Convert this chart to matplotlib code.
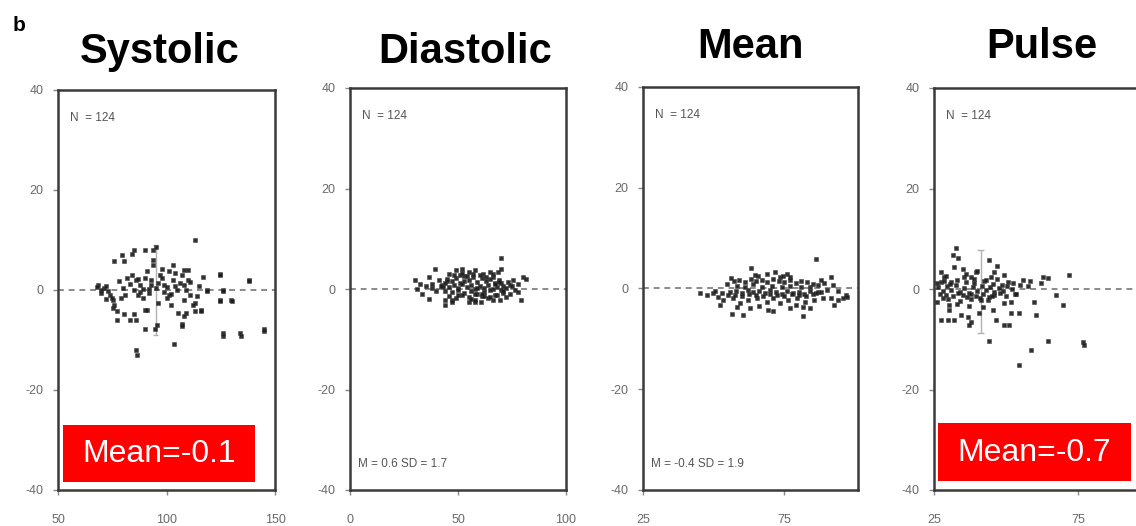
import matplotlib
matplotlib.use("Agg")
import matplotlib.pyplot as plt
from matplotlib.patches import Rectangle

plt.rcParams['font.family'] = ['Liberation Sans', 'DejaVu Sans']
plt.rcParams['axes.unicode_minus'] = False

# ---------------- data ----------------
titles = ["Systolic", "Diastolic", "Mean", "Pulse"]
n_text = "N  = 124"
stat_texts = [None, "M = 0.6 SD = 1.7", "M = -0.4 SD = 1.9", None]
red_texts = ["Mean=-0.1", None, None, "Mean=-0.7"]

y_ticks = [-40, -20, 0, 20, 40]
x_ticks_sys = [50, 100, 150]
x_ticks_dia = [0, 50, 100]
x_ticks_mean = [25, 75]
x_ticks_pulse = [25, 75]

sys_x = [113, 138, 124.5, 124.5, 129.5, 126, 118.5, 126, 134, 145, 103.5, 86, 86.5, 107, 105.5,
         109, 116, 108, 113, 90, 90, 94.5, 95.4, 80.5, 85, 77.3, 83, 86, 75.5, 75.5,
         76, 80.5, 79.6, 84, 85, 90, 94, 95, 94, 94, 97.7, 103, 101, 108, 110,
         68.5, 71, 73, 70, 68, 70, 72, 74, 75, 76, 77, 84, 86, 88, 85,
         87, 89, 90, 91, 93, 95, 92, 96, 97, 99, 101, 103, 105, 100, 104,
         102, 91, 107, 108, 109, 111, 112, 113, 110, 124.5, 138, 118.5, 126, 124.5, 130,
         108, 116, 107, 145, 126, 134.5, 82, 80, 79, 83, 88, 92, 98, 100, 106,
         102, 96, 93, 89, 81, 78, 87, 99, 104, 111, 114, 115, 117, 72]
sys_y = [10, 2, 3.2, -2, -2, 0, 0, -8.6, -8.6, -7.8, -10.8, -12, -13, -6.8, -4.6,
         -4.6, -4, -2, -2.6, -4, -7.8, -7.8, -7, -4.8, -4.8, -6, -6, -6, -2, -3.6,
         5.8, 5.8, 7, 7.2, 8, 8, 8, 8.6, 6, 5, 4.2, 5, 3.8, 4, 4,
         1, 0.4, -0.2, 0, 0.6, -0.6, 0.8, -1, -1.5, -3, -4.2, 3, 2, 1, 0,
         -1, -1.6, 2.5, 3.8, 2, 0.5, -0.5, 1.5, 3, 1, -1, 2, 0, -1.6, 3.5,
         -3, -4, 3, 1, 0, -1, -3, -4.2, 2, 3, 1.8, -0.2, -0.2, -2.2, -2.2,
         -5.2, -4.2, -7.2, -8.2, -9.2, -9.2, 2.5, 0.5, -1.5, 1.2, -0.4, 0.2, 2.4, 0.6, 1.4,
         -0.8, -2.6, 1.1, 0.3, -0.9, 1.8, 2.2, -0.3, 0.9, 1.6, -1.2, 0.8, 2.6, -1.8]

dia_x = [70, 70, 68.5, 39.5, 46, 49, 52, 55.3, 57.7, 61.4, 64.6, 66, 30.2, 32.6, 31.2,
         33.5, 36.7, 38, 41.4, 42.8, 36.7, 44, 44, 47.4, 55.3, 57.7, 60.5, 66, 69.3, 72,
         79, 75.3, 77.7, 80, 81.4, 76.3, 74, 77.7, 45, 47, 49, 51, 53, 55, 57,
         59, 61, 63, 65, 67, 69, 71, 73, 46, 48, 50, 52, 54, 56, 58,
         60, 62, 64, 66, 68, 70, 72, 44, 47, 50, 53, 56, 59, 62, 65,
         68, 71, 43, 46, 49, 52, 55, 58, 61, 64, 67, 70, 45, 48, 51,
         54, 57, 60, 63, 66, 69, 40, 42, 74, 50, 56, 62, 47, 53, 59,
         65, 71, 44, 58, 35, 38, 75, 52, 61, 67]
dia_y = [6.2, 4, 3.4, 4, 3, 3.8, 4, 3.4, 3.8, 3, 3.4, 2.4, 1.8, 1, 0,
         -1, 2.4, 1, 1.8, 0.8, -2, -2.2, -3.2, -2.2, -2.6, -2.6, -2.6, -2.2, -2.2, -1.6,
         -2.2, 1.8, 1, 2.4, 2, -0.2, -1, -0.6, 2, 1.5, 2.2, 1.2, 2.6, 1.8, 2.4,
         1.4, 2.2, 1.6, 2, 1.2, 1.8, 0.6, 1.4, 0.4, 0.8, 0.2, 1, 0.4, 0.8, 0,
         0.6, 0.2, 0.8, 0, 0.4, -0.2, 0.2, -0.4, -0.6, -0.2, -0.8, -0.4, -1, -0.6, -0.2,
         -1.2, -0.8, 0.4, -1.4, -1.8, -1.2, -1.6, -1, -1.4, -1.8, -1.2, 1.2, 1.6, 2.8, 2.8,
         2.6, 3, 2.8, 2.4, 3, 1.4, -0.4, 0.6, 0.8, -1.2, -2, -1.4, -2.6, 1.6, 0.2,
         -1.6, -0.4, 1.2, -2.2, 0.6, 0.2, 0.6, 3.2, -1, 1]

mean_x = [86, 63, 65.8, 69, 71.8, 73.6, 76, 77, 91.3, 54.8, 58.3, 55.9, 61.2, 64, 67.2,
          70.7, 74.3, 77.1, 80.7, 84.2, 86.7, 45.2, 47.7, 49.8, 51.6, 53, 52.3, 53.4, 56.9, 59.4,
          62.2, 65.4, 69, 71.1, 73.6, 76.4, 79.6, 82.4, 85.3, 88.5, 91.3, 93.8, 96.6, 95.6, 92.4,
          56.6, 60.5, 58.3, 62.9, 69.3, 71.1, 77.1, 81.4, 81.7, 84.2, 57, 59, 61, 63, 65,
          67, 69, 71, 73, 75, 77, 79, 81, 83, 85, 87, 89, 58, 60, 62,
          64, 66, 68, 70, 72, 74, 76, 78, 80, 82, 84, 86, 88, 90, 55,
          57.5, 60, 62.5, 65, 67.5, 70, 72.5, 75, 77.5, 80, 82.5, 85, 94, 97, 50.5,
          56, 64.5, 74.5, 88, 92, 66, 79]
mean_y = [5.9, 4, 2.4, 2.8, 3.2, 2.2, 2.8, 2.2, 2.2, 0.8, 0.4, -0.6, 0.2, 0.8, 0.2,
          0.4, 0.2, 0.4, 0.2, 0.2, -0.6, -0.8, -1.2, -0.8, -1.6, -0.8, -3.2, -2.2, -1.8, -2.8,
          -2.2, -1.8, -2.6, -1.8, -2.8, -2.2, -1.8, -2.6, -2.2, -1.8, -1.8, -2.2, -1.2, -1.8, -3.2,
          -5.1, -5.3, -3.6, -3.8, -4.2, -4.5, -3.8, -5.5, -3.6, -3.8, 1.4, 1.6, 1.2, 1.8, 1.4,
          1.6, 1.2, 1.8, 1.4, 1.2, 1.6, 1.0, 1.4, 1.2, 0.8, 0.6, 1.0, -0.4, -0.8, -0.2,
          -0.6, -0.4, -0.8, -0.2, -0.6, -1.0, -0.4, -0.8, -0.6, -1.0, -0.4, -0.8, -0.6, -0.2, -1.2,
          -1.2, -1.4, -1.0, -1.2, -1.4, -1.0, -1.2, -1.4, -1.0, -1.2, -1.4, -1.0, -0.4, -1.6, -0.4,
          2.0, 2.6, 2.4, 1.6, 0.6, -3.4, -3.2]

pulse_x = [32.6, 31.6, 33.3, 44, 47, 45.8, 44.8, 49.3, 50.7, 39.6, 37.8, 35.4, 27.4, 28.5, 27.4,
           31, 56, 55, 62.8, 62, 64.6, 71.9, 67.4, 69.8, 59.7, 60.4, 54.5, 51.7, 49.3, 51,
           46.5, 44.1, 64.6, 58.7, 76.7, 77, 54.5, 26, 27.4, 29.9, 32, 30.2, 30.2, 34.4, 36.8,
           37.8, 37.2, 40.6, 41.3, 43.8, 45.5, 49.3, 51.7, 26.5, 28, 29.5, 31, 32.5, 34, 35.5,
           37, 38.5, 40, 41.5, 43, 44.5, 46, 47.5, 49, 50.5, 52, 27, 29, 31.5, 33.5,
           35, 36.5, 38, 39.5, 42, 44, 46, 48, 50, 53, 26, 28.5, 30.5, 33, 36,
           39, 42.5, 45.5, 48.5, 52.5, 57.5, 58.5, 28, 30, 34, 38, 41, 43, 47, 35,
           40, 33, 37, 42, 29, 32, 36, 39, 45, 53.5]
pulse_y = [8.2, 6.8, 6.2, 5.8, 4.6, 3.4, 2.4, 2.8, 1.4, 3.4, 2.4, 2.4, 3.4, 2.4, 1.4,
           1.4, 1.8, 0.8, 2.4, 1.2, 2.2, 2.8, -1.2, -3.2, -2.6, -5.2, -4.8, -4.8, -7.2, -7.2,
           -6.2, -10.3, -10.3, -12.1, -10.5, -11.1, -15.1, -2.6, -6.2, -6.2, -6.2, -3.2, -4.2, -5.2, -5.6,
           -6.6, -7.2, -4.8, -2.2, -2.2, -4.2, -2.8, -2.6, 0.4, -0.4, 0.6, -0.2, 0.8, -0.6, 0.2,
           -0.8, 0.4, -0.4, 0.6, -0.2, 0.4, -0.6, 0.2, -0.4, 0.6, 0.0, -1.0, -1.2, -1.4, -0.8,
           -1.2, -1.6, -1.0, -1.4, -1.0, -1.6, -1.2, -0.8, -1.4, -1.0, 1.2, 1.6, 1.0, 1.8, 1.4,
           1.2, 1.6, 1.0, 0.8, 1.2, 0.6, 1.6, -1.8, -2.0, -2.4, -2.0, -1.8, 1.8, 2.0, 4.0,
           3.6, -3.0, -3.4, -3.6, 2.6, 4.4, 3.0, 2.0, -1.4, -1.0]

# mean +/- SD bars visible in two panels (x, low, high)
sys_bar = [95, -9, 9]
pulse_bar = [41.3, -8.8, 7.8]

# ---------------- layout helpers ----------------
W, H = 1136, 526
fig = plt.figure(figsize=(W / 100, H / 100), dpi=100)


def box(l, t, r, b):
    return [l / W, 1 - b / H, (r - l) / W, (b - t) / H]


def ftext(x, y, s, **kw):
    fig.text(x / W, 1 - y / H, s, **kw)


panels = [
    (box(58, 90, 275, 490), (50, 150), x_ticks_sys, sys_x, sys_y, sys_bar),
    (box(350, 88, 566, 490), (0, 100), x_ticks_dia, dia_x, dia_y, None),
    (box(643, 87, 858, 490), (25, 101), x_ticks_mean, mean_x, mean_y, None),
    (box(934, 88, 1150, 490), (25, 100), x_ticks_pulse, pulse_x, pulse_y, pulse_bar),
]

spine_col = "#3a3a3a"
tick_col = "#6a6a6a"

axes = []
for i, (pos, xl, xt, xs, ys, bar) in enumerate(panels):
    ax = fig.add_axes(pos)
    ax.set_xlim(*xl)
    ax.set_ylim(-40, 40)
    ax.set_xticks(xt)
    ax.set_yticks(y_ticks)
    for sp in ax.spines.values():
        sp.set_color(spine_col)
        sp.set_linewidth(1.8)
    ax.tick_params(axis="both", colors="#888888", labelcolor=tick_col,
                   length=3.5, width=1, labelsize=9)
    ax.tick_params(axis="x", pad=14)
    ax.tick_params(axis="y", pad=7)
    ax.axhline(0, color="#8a8a8a", lw=1.4, ls=(0, (3, 2.5)), zorder=1)
    if bar is not None:
        ax.vlines(bar[0], bar[1], bar[2], color="#b0b0b0", lw=1.0, zorder=1)
        ax.hlines([bar[1], bar[2]], bar[0] - 1.2, bar[0] + 1.2, color="#b0b0b0", lw=1.0, zorder=1)
    ax.plot(xs, ys, ls="none", marker="s", ms=2.4, mfc="#1c1c1c", mec="#3a3a3a",
            mew=0.4, alpha=0.9, zorder=3)
    ax.text(0.055, 0.93, n_text, transform=ax.transAxes, fontsize=8.5,
            color="#555555", ha="left", va="center")
    if stat_texts[i]:
        ax.text(0.035, 0.065, stat_texts[i], transform=ax.transAxes, fontsize=8.5,
                color="#555555", ha="left", va="center")
    axes.append(ax)

# titles
title_pos = [(160, 63), (465, 63), (751, 58), (1042, 58)]
for t, (x, y) in zip(titles, title_pos):
    ftext(x, y, t, fontsize=30, fontweight="bold", ha="center", va="baseline", color="black")

# panel letter
ftext(13, 31, "b", fontsize=15, fontweight="bold", ha="left", va="baseline", color="black")

# red boxes with mean annotation
red_boxes = [(63, 425, 255, 482), (938, 423, 1131, 481)]
for (l, t, r, b), s in zip(red_boxes, [red_texts[0], red_texts[3]]):
    rect = Rectangle((l / W, 1 - b / H), (r - l) / W, (b - t) / H,
                     transform=fig.transFigure, facecolor="#ff0000", edgecolor="none", zorder=10)
    fig.patches.append(rect)
    ftext((l + r) / 2, (t + b) / 2 + 1, s, fontsize=23, color="white",
          ha="center", va="center", zorder=11)

fig.savefig("out.png", dpi=100)
